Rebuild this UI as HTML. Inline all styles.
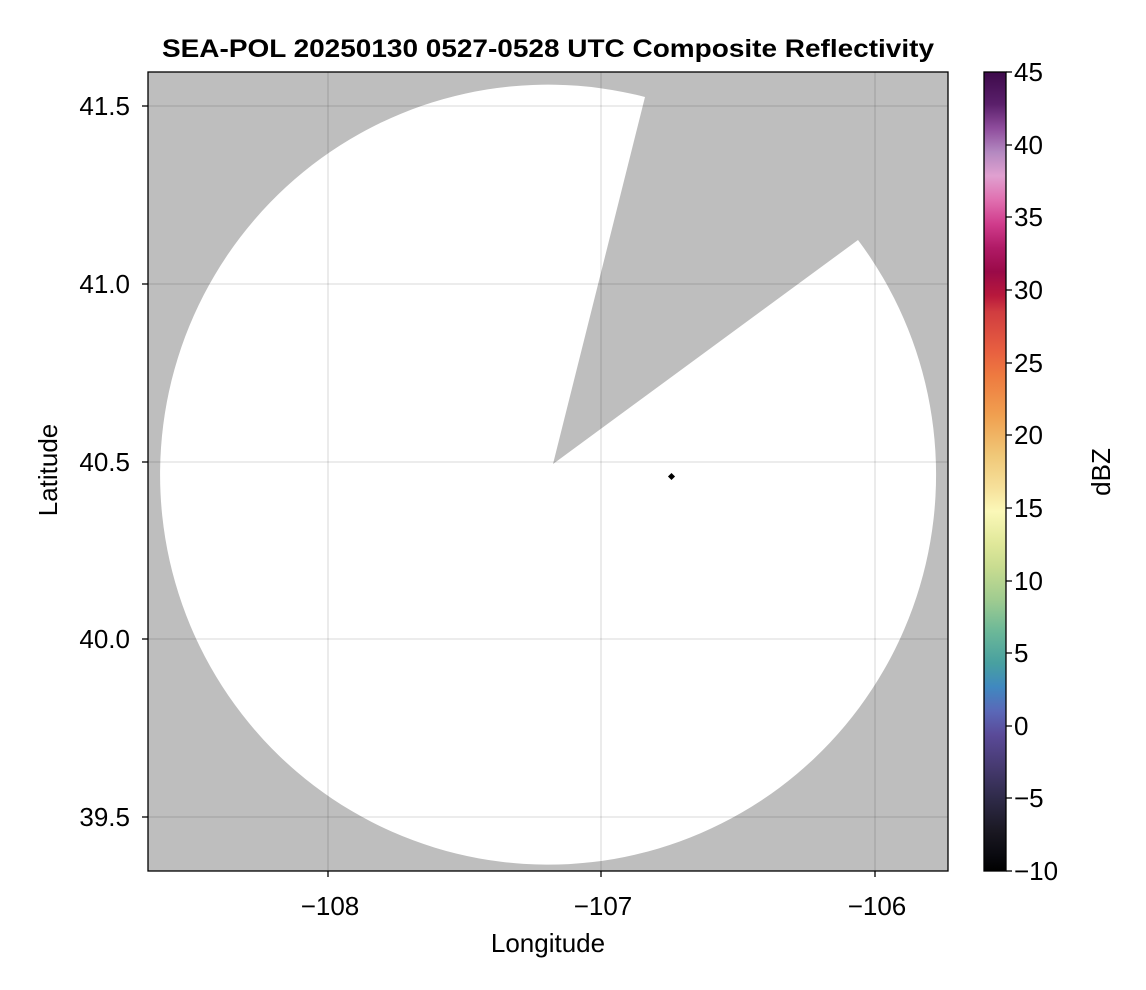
<!DOCTYPE html>
<html><head><meta charset="utf-8"><style>
body{margin:0;background:#fff;}
svg{display:block;font-family:"Liberation Sans",sans-serif;}
</style></head><body>
<svg width="1146" height="990" xmlns="http://www.w3.org/2000/svg">
<defs>
<linearGradient id="cb" x1="0" y1="0" x2="0" y2="1">
<stop offset="0" stop-color="#3d0a4a"/>
<stop offset="0.04" stop-color="#5a1f6a"/>
<stop offset="0.07" stop-color="#8e4c9c"/>
<stop offset="0.1" stop-color="#b388c0"/>
<stop offset="0.13" stop-color="#e0a0d0"/>
<stop offset="0.16" stop-color="#e070b0"/>
<stop offset="0.19" stop-color="#d03c8c"/>
<stop offset="0.22" stop-color="#b01a66"/>
<stop offset="0.25" stop-color="#9a0a48"/>
<stop offset="0.28" stop-color="#b8183c"/>
<stop offset="0.3" stop-color="#d03c40"/>
<stop offset="0.35" stop-color="#e86040"/>
<stop offset="0.38" stop-color="#ee7a40"/>
<stop offset="0.43" stop-color="#f0a050"/>
<stop offset="0.48" stop-color="#f0c878"/>
<stop offset="0.52" stop-color="#f6e09a"/>
<stop offset="0.55" stop-color="#fbf8b8"/>
<stop offset="0.59" stop-color="#e0e89a"/>
<stop offset="0.62" stop-color="#c8dc90"/>
<stop offset="0.66" stop-color="#a0cc90"/>
<stop offset="0.7" stop-color="#6cb898"/>
<stop offset="0.74" stop-color="#48a0a0"/>
<stop offset="0.77" stop-color="#4088c0"/>
<stop offset="0.8" stop-color="#5a68b8"/>
<stop offset="0.83" stop-color="#5a4a98"/>
<stop offset="0.87" stop-color="#463a70"/>
<stop offset="0.91" stop-color="#2e2a48"/>
<stop offset="0.95" stop-color="#1a1822"/>
<stop offset="0.98" stop-color="#0a0a10"/>
<stop offset="1" stop-color="#000"/>
</linearGradient>
</defs>
<text x="548" y="57" text-anchor="middle" font-size="25" font-weight="bold" textLength="772" lengthAdjust="spacingAndGlyphs">SEA-POL 20250130 0527-0528 UTC Composite Reflectivity</text>
<rect x="148" y="72" width="800" height="799" fill="#bebebe"/>
<path d="M553,464 L858,240 A388,390 0 1 1 645,97 Z" fill="#fff"/>
<g stroke="#000" stroke-opacity="0.12" stroke-width="1.3">
<line x1="328" y1="72" x2="328" y2="871"/><line x1="601" y1="72" x2="601" y2="871"/><line x1="875" y1="72" x2="875" y2="871"/>
<line x1="148" y1="106" x2="948" y2="106"/><line x1="148" y1="284" x2="948" y2="284"/><line x1="148" y1="462" x2="948" y2="462"/><line x1="148" y1="639" x2="948" y2="639"/><line x1="148" y1="817" x2="948" y2="817"/>
</g>
<rect x="669" y="474" width="5" height="5" fill="#000" transform="rotate(45 671.5 476.5)"/>
<rect x="148" y="72" width="800" height="799" fill="none" stroke="#000" stroke-width="1.3"/>
<g stroke="#000" stroke-width="1.3">
<line x1="328" y1="871" x2="328" y2="877"/><line x1="601" y1="871" x2="601" y2="877"/><line x1="875" y1="871" x2="875" y2="877"/>
<line x1="142" y1="106" x2="148" y2="106"/><line x1="142" y1="284" x2="148" y2="284"/><line x1="142" y1="462" x2="148" y2="462"/><line x1="142" y1="639" x2="148" y2="639"/><line x1="142" y1="817" x2="148" y2="817"/>
</g>
<g font-size="26" text-anchor="middle">
<text x="330" y="915">−108</text><text x="603" y="915">−107</text><text x="877" y="915">−106</text>
<text x="548" y="952">Longitude</text>
</g>
<g font-size="26" text-anchor="end">
<text x="130" y="115">41.5</text><text x="130" y="293">41.0</text><text x="130" y="471">40.5</text><text x="130" y="648">40.0</text><text x="130" y="826">39.5</text>
</g>
<text transform="translate(57 470) rotate(-90)" font-size="26" text-anchor="middle">Latitude</text>
<rect x="984" y="72" width="22" height="799" fill="url(#cb)" stroke="#000" stroke-width="1.3"/>
<g stroke="#000" stroke-width="1.3">
<line x1="1006" y1="72" x2="1012" y2="72"/><line x1="1006" y1="145" x2="1012" y2="145"/><line x1="1006" y1="217" x2="1012" y2="217"/><line x1="1006" y1="290" x2="1012" y2="290"/><line x1="1006" y1="363" x2="1012" y2="363"/><line x1="1006" y1="435" x2="1012" y2="435"/><line x1="1006" y1="508" x2="1012" y2="508"/><line x1="1006" y1="581" x2="1012" y2="581"/><line x1="1006" y1="653" x2="1012" y2="653"/><line x1="1006" y1="726" x2="1012" y2="726"/><line x1="1006" y1="798" x2="1012" y2="798"/><line x1="1006" y1="871" x2="1012" y2="871"/>
</g>
<g font-size="26">
<text x="1014" y="81">45</text><text x="1014" y="154">40</text><text x="1014" y="226">35</text><text x="1014" y="299">30</text><text x="1014" y="372">25</text><text x="1014" y="444">20</text><text x="1014" y="517">15</text><text x="1014" y="590">10</text><text x="1014" y="662">5</text><text x="1014" y="735">0</text><text x="1014" y="807">−5</text><text x="1014" y="880">−10</text>
</g>
<text transform="translate(1110 472) rotate(-90)" font-size="26" text-anchor="middle">dBZ</text>
</svg>
</body></html>
